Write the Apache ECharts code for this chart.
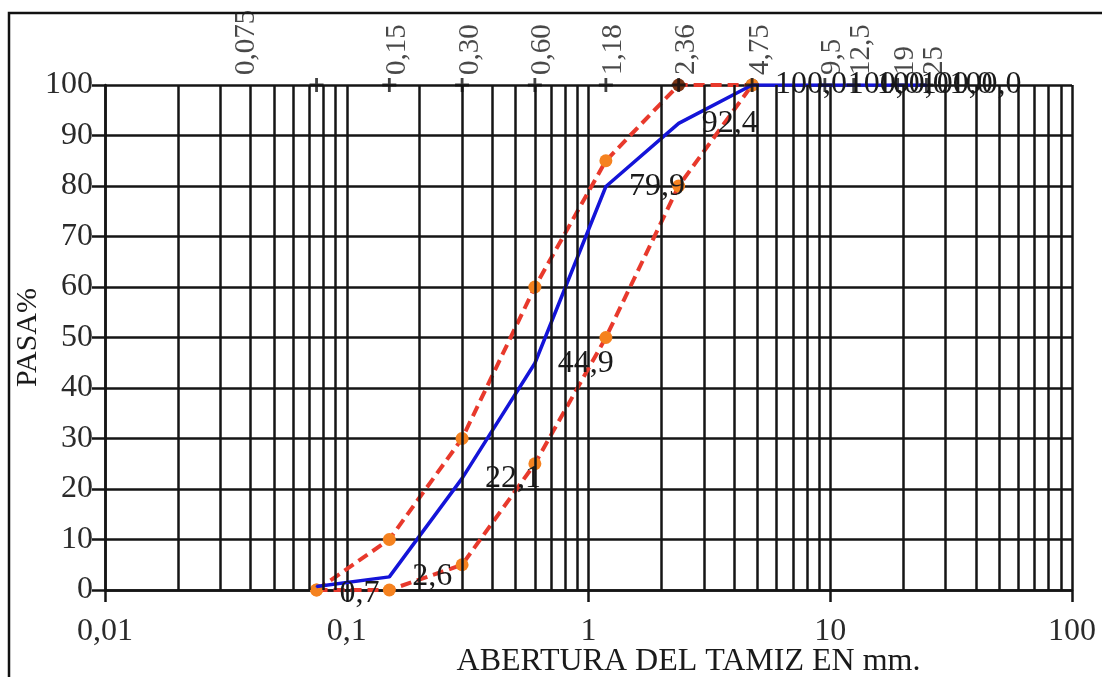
<!DOCTYPE html>
<html>
<head>
<meta charset="utf-8">
<script src="https://cdn.jsdelivr.net/npm/echarts@6/dist/echarts.min.js"></script>
<style>
html, body { margin: 0; padding: 0; background: #fff; }
#chart { width: 1107px; height: 677px; }
</style>
</head>
<body>
<div id="chart"></div>
<script>
// sieve openings (mm) and names shown on top
var sieveSizes = [0.075, 0.15, 0.3, 0.6, 1.18, 2.36, 4.75, 9.5, 12.5, 19, 25];
var sieveNames = ['0,075', '0,15', '0,30', '0,60', '1,18', '2,36', '4,75', '9,5', '12,5', '19', '25'];

// % passing of the sample (blue)
var sampleSizes = [0.075, 0.15, 0.3, 0.6, 1.18, 2.36, 4.75, 9.5, 12.5, 19, 25];
var samplePass = [0.7, 2.6, 22.1, 44.9, 79.9, 92.4, 100, 100, 100, 100, 100];

// grading limits (red dashed)
var limitSizes = [0.075, 0.15, 0.3, 0.6, 1.18, 2.36, 4.75];
var upperPass = [0, 10, 30, 60, 85, 100, 100];
var lowerPass = [0, 0, 5, 25, 50, 80, 100];

// minor vertical grid lines of the log paper
var minorGrid = [0.02, 0.03, 0.04, 0.05, 0.06, 0.07, 0.08, 0.09,
                 0.2, 0.3, 0.4, 0.5, 0.6, 0.7, 0.8, 0.9,
                 2, 3, 4, 5, 6, 7, 8, 9,
                 20, 30, 40, 50, 60, 70, 80, 90];

var FONT = 'Liberation Serif';
var GRID = '#151515';

function pairs(xs, ys){
    var out = [];
    for(var i = 0; i < xs.length; i++){
        out.push([xs[i], ys[i]]);
    }
    return out;
}

function comma(v){
    return String(v).replace('.', ',');
}

var sieveData = [];
for(var i = 0; i < sieveSizes.length; i++){
    var item = { value: [sieveSizes[i], 100], name: sieveNames[i] };
    if(i == 0){
        item.label = { offset: [0, -70] };
    }
    sieveData.push(item);
}

var sampleData = pairs(sampleSizes, samplePass);
sampleData[0] = { value: sampleData[0], label: { offset: [0, 7] } };

var minorLines = minorGrid.map(function (v) { return { xAxis: v }; });

var myChart = echarts.init(document.getElementById('chart'));

var option = {
    backgroundColor: '#ffffff',
    animation: false,
    grid: {
        left: 105,
        right: 35,
        top: 85,
        bottom: 87,
        outerBoundsMode: 'none',
        containLabel: false
    },
    xAxis: {
        type: 'log',
        logBase: 10,
        min: 0.01,
        max: 100,
        name: 'ABERTURA DEL TAMIZ EN mm.',
        nameLocation: 'middle',
        nameMoveOverlap: false,
        nameGap: 56,
        nameTextStyle: {
            fontFamily: FONT,
            fontSize: 32,
            color: '#1a1a1a',
            padding: [0, 0, 0, 200]
        },
        axisLine: { lineStyle: { color: GRID, width: 2.5 } },
        axisTick: { show: true, length: 12, lineStyle: { color: GRID, width: 2.5 } },
        axisLabel: {
            fontFamily: FONT,
            fontSize: 32,
            color: '#2a2a2a',
            margin: 26,
            formatter: function (value) { return comma(value); }
        },
        splitLine: { show: true, lineStyle: { color: GRID, width: 2.5 } }
    },
    yAxis: {
        type: 'value',
        min: 0,
        max: 100,
        interval: 10,
        name: 'PASA%',
        nameLocation: 'middle',
        nameMoveOverlap: false,
        nameRotate: 90,
        nameGap: 62,
        nameTextStyle: { fontFamily: FONT, fontSize: 30, color: '#1a1a1a' },
        axisLine: { show: true, lineStyle: { color: GRID, width: 2.5 } },
        axisTick: { show: true, length: 13, lineStyle: { color: GRID, width: 2.5 } },
        axisLabel: { fontFamily: FONT, fontSize: 32, color: '#2a2a2a', margin: 12 },
        splitLine: { show: true, lineStyle: { color: GRID, width: 2.5 } }
    },
    graphic: [{
        type: 'polyline',
        shape: { points: [[9, 700], [9, 13], [1102, 13]] },
        style: { stroke: '#111', lineWidth: 2.5, fill: null },
        silent: true
    }],
    series: [{
        type: 'line',
        name: 'grid',
        data: [],
        silent: true,
        z: 1,
        markLine: {
            silent: true,
            symbol: ['none', 'none'],
            label: { show: false },
            lineStyle: { color: GRID, width: 2.5, type: 'solid' },
            emphasis: { disabled: true },
            data: minorLines
        }
    }, {
        type: 'line',
        name: 'superior',
        data: pairs(limitSizes, upperPass),
        z: 3,
        symbol: 'circle',
        symbolSize: 13,
        itemStyle: {
            color: function (p) { return p.value[1] >= 100 ? '#7a3414' : '#f5821f'; }
        },
        lineStyle: { color: '#e8392c', width: 4, type: [11, 6] }
    }, {
        type: 'line',
        name: 'inferior',
        data: pairs(limitSizes, lowerPass),
        z: 3,
        symbol: 'circle',
        symbolSize: 13,
        itemStyle: { color: '#f5821f' },
        lineStyle: { color: '#e8392c', width: 4, type: [11, 6] }
    }, {
        type: 'line',
        name: 'muestra',
        data: sampleData,
        z: 4,
        symbol: 'circle',
        symbolSize: 2,
        itemStyle: { color: '#1414d8' },
        lineStyle: { color: '#1414d8', width: 3.5 },
        label: {
            show: true,
            position: 'right',
            distance: 22,
            fontFamily: FONT,
            fontSize: 32,
            color: '#1a1a1a',
            formatter: function (p) { return p.value[1].toFixed(1).replace('.', ','); }
        }
    }, {
        type: 'scatter',
        name: 'tamices',
        data: sieveData,
        z: 5,
        symbol: 'path://M4,0h2v10h-2z M0,4h10v2h-10z',
        symbolSize: 14,
        itemStyle: { color: '#111' },
        label: {
            show: true,
            position: 'top',
            distance: 3,
            rotate: 90,
            align: 'left',
            verticalAlign: 'middle',
            offset: [0, 8],
            fontFamily: FONT,
            fontSize: 29,
            color: '#1a1a1a',
            formatter: '{b}'
        }
    }]
};

myChart.setOption(option);
</script>
</body>
</html>
